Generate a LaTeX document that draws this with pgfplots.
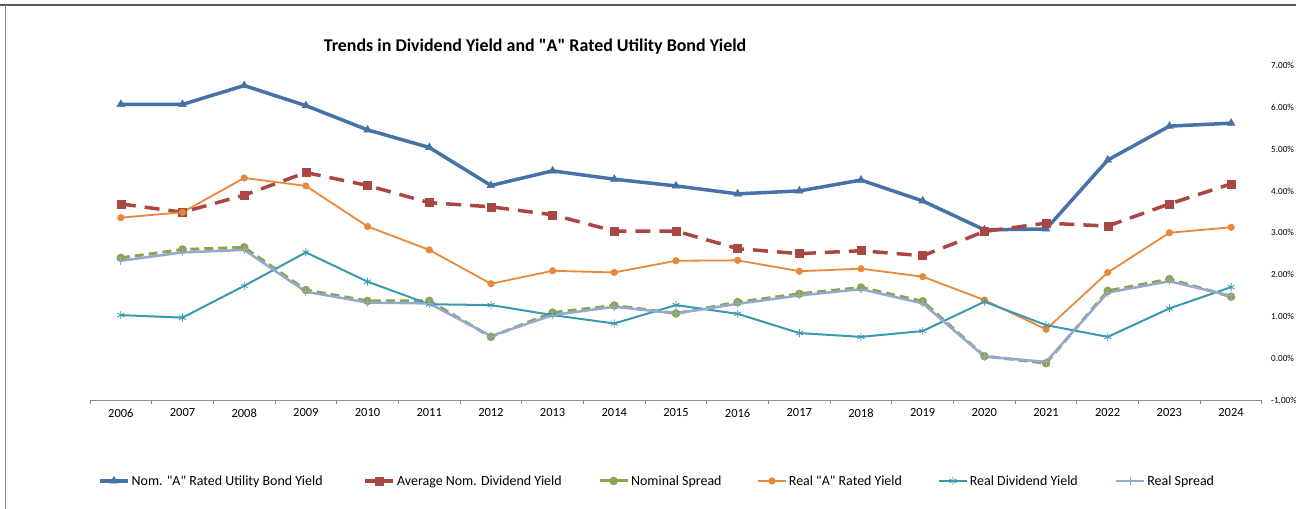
\documentclass[border=0pt]{standalone}
\usepackage{pgfplots}
\pgfplotsset{compat=1.18}
\usepackage{fontspec}
\setmainfont{Carlito}
\usetikzlibrary{plotmarks}

\definecolor{bondblue}{RGB}{69,114,167}
\definecolor{divred}{RGB}{170,70,67}
\definecolor{spreadgreen}{RGB}{137,165,78}
\definecolor{realorange}{RGB}{233,136,58}
\definecolor{realteal}{RGB}{57,153,177}
\definecolor{realspread}{RGB}{149,168,210}

% year, Nom A bond, Avg nom div, nominal spread, real A, real div, real spread
\pgfplotstableread{
year bond div nspread realA realdiv rspread
2006 6.07 3.69 2.40 3.36 1.03 2.33
2007 6.07 3.49 2.60 3.49 0.97 2.53
2008 6.52 3.90 2.65 4.31 1.73 2.59
2009 6.04 4.44 1.63 4.12 2.53 1.59
2010 5.46 4.13 1.37 3.15 1.83 1.33
2011 5.04 3.72 1.37 2.59 1.29 1.31
2012 4.13 3.62 0.51 1.78 1.27 0.53
2013 4.48 3.43 1.09 2.09 1.03 1.03
2014 4.28 3.04 1.26 2.05 0.83 1.23
2015 4.12 3.04 1.07 2.33 1.27 1.07
2016 3.93 2.62 1.34 2.34 1.06 1.30
2017 4.00 2.50 1.54 2.08 0.60 1.50
2018 4.26 2.57 1.69 2.14 0.51 1.65
2019 3.76 2.45 1.36 1.95 0.65 1.31
2020 3.07 3.03 0.05 1.39 1.35 0.04
2021 3.09 3.23 -0.12 0.69 0.79 -0.09
2022 4.74 3.16 1.61 2.05 0.51 1.57
2023 5.55 3.69 1.89 3.00 1.19 1.84
2024 5.62 4.17 1.47 3.13 1.70 1.49
}\yields

\begin{document}
\begin{tikzpicture}
% chart frame (top and left edges visible)
\draw[line width=1.5bp, black!65] (0bp,504bp) -- (1296bp,504bp);
\draw[line width=1bp, black!45] (5bp,0bp) -- (5bp,504bp);

\node[font=\bfseries\fontsize{18}{20}\selectfont] at (535bp,462bp)
  {Trends in Dividend Yield and \textquotedbl A\textquotedbl{} Rated Utility Bond Yield};

\begin{axis}[
    at={(90bp,109bp)}, anchor=south west,
    scale only axis,
    width=1172bp, height=334.5bp,
    xmin=2005.5, xmax=2024.5,
    ymin=-1, ymax=7,
    axis x line*=bottom,
    axis y line*=right,
    y axis line style={draw=none},
    x axis line style={draw=black!45, line width=0.8bp},
    xtick={2006,...,2024},
    major x tick style={draw=none},
    minor xtick={2005.5,2006.5,...,2024.5},
    minor x tick style={draw=black!45, line width=0.8bp},
    minor tick length=4bp,
    tick align=outside,
    x tick label style={font=\fontsize{12.5}{14}\selectfont, yshift=-1bp},
    xticklabel={\pgfmathprintnumber[1000 sep=]{\tick}},
    ytick={-1,0,...,7},
    major y tick style={draw=none},
    yticklabel pos=right,
    y tick label style={font=\fontsize{9.2}{11}\selectfont, anchor=west, xshift=1.5bp},
    yticklabel={\pgfmathprintnumber[fixed,fixed zerofill,precision=2]{\tick}\%},
    /pgf/number format/assume math mode=true,
    clip=false,
    legend columns=6,
    legend style={
        at={(axis description cs:0.0068,-0.242)}, anchor=west,
        draw=none, inner sep=0pt,
        font=\fontsize{14}{16}\selectfont,
        column sep=0pt,
        /tikz/every even column/.append style={column sep=0pt},
    },
    legend image code/.code={
        \draw[solid, mark repeat=2,mark phase=2] plot coordinates {(0bp,0bp)(14bp,0bp)(28bp,0bp)};
    },
]

\addplot[color=bondblue, line width=3.5bp, mark=triangle*, mark size=4.5bp,
    mark options={solid, line width=0.5bp}]
    table[x=year, y=bond] {\yields};
\addlegendentry{\makebox[230bp][l]{Nom. \textquotedbl A\textquotedbl{} Rated Utility Bond Yield}}

\addplot[color=divred, line width=3.5bp, dash pattern=on 15bp off 9bp, mark=square*, mark size=4bp,
    mark options={solid, line width=0.5bp}]
    table[x=year, y=div] {\yields};
\addlegendentry{\makebox[199bp][l]{Average Nom. Dividend Yield}}

\addplot[color=spreadgreen, line width=3bp, dash pattern=on 9bp off 5bp, mark=*, mark size=4bp,
    mark options={solid, line width=0.5bp}]
    table[x=year, y=nspread] {\yields};
\addlegendentry{\makebox[124bp][l]{Nominal Spread}}

\addplot[color=realorange, line width=1.8bp, mark=*, mark size=3.3bp,
    mark options={solid, line width=0.5bp}]
    table[x=year, y=realA] {\yields};
\addlegendentry{\makebox[147bp][l]{Real \textquotedbl A\textquotedbl{} Rated Yield}}

\addplot[color=realteal, line width=2bp, mark=asterisk, mark size=4bp,
    mark options={solid, line width=0.8bp}]
    table[x=year, y=realdiv] {\yields};
\addlegendentry{\makebox[143bp][l]{Real Dividend Yield}}

\addplot[color=realspread, line width=2.5bp, mark=+, mark size=4bp,
    mark options={solid, line width=1bp}]
    table[x=year, y=rspread] {\yields};
\addlegendentry{Real Spread}

\end{axis}
\pgfresetboundingbox
\path[use as bounding box] (0bp,0bp) rectangle (1296bp,509bp);
\end{tikzpicture}
\end{document}
